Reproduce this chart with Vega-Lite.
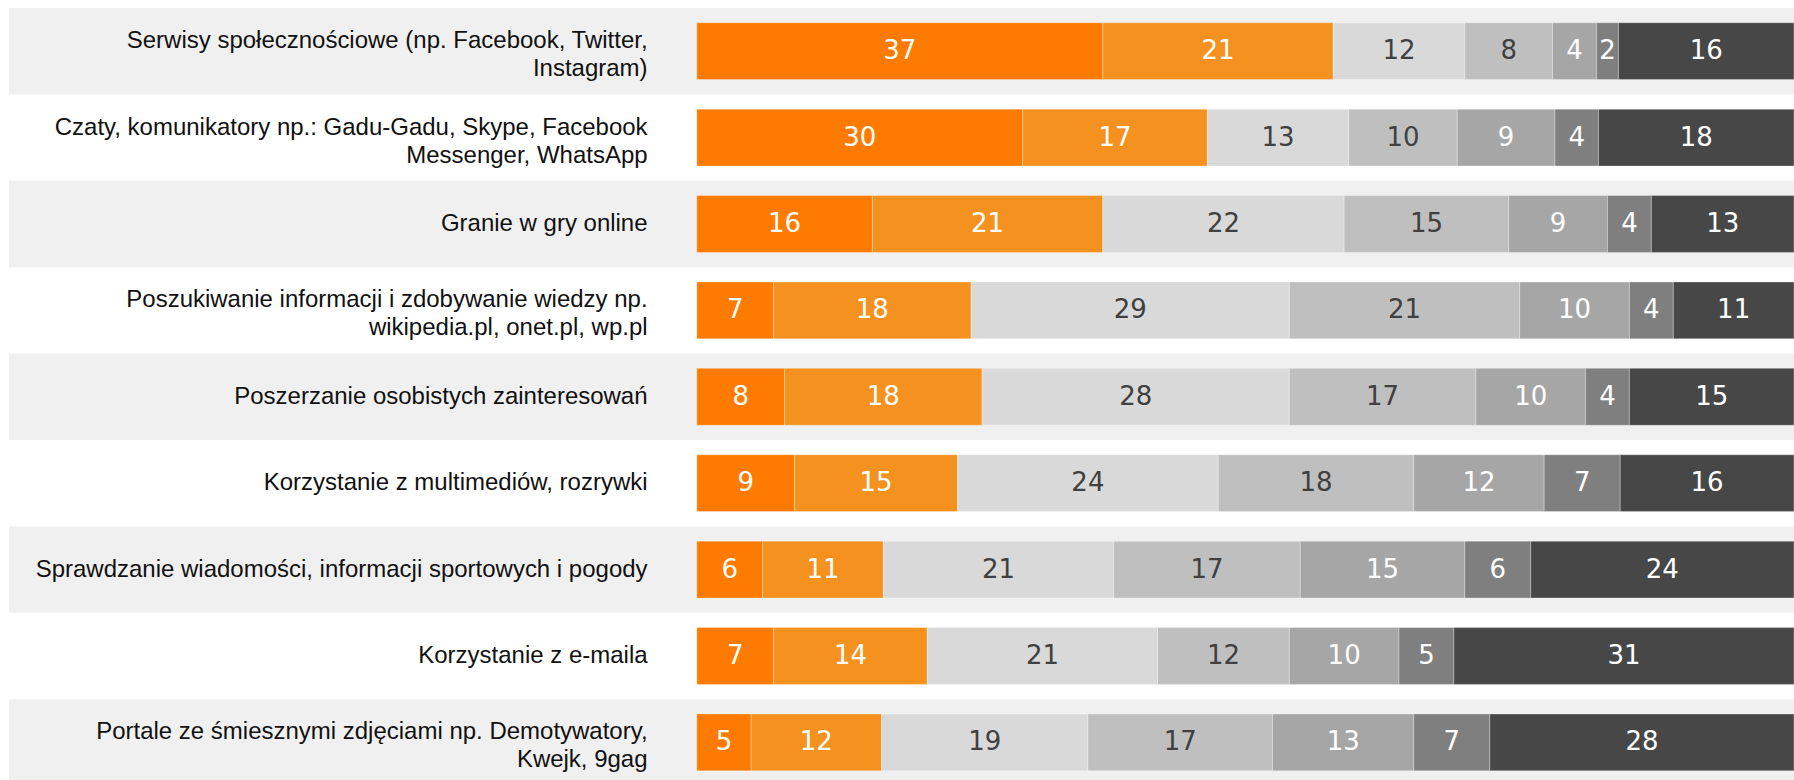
{
  "$schema": "https://vega.github.io/schema/vega-lite/v6.json",
  "width": 1785,
  "height": 777.6,
  "autosize": "none",
  "padding": {"left": 9, "top": 8, "right": 0, "bottom": 0},
  "background": "white",
  "config": {"view": {"stroke": null}},
  "data": {"values": [
    {"category": "Serwisy społecznościowe (np. Facebook, Twitter,\nInstagram)", "segment": 1, "value": 37},
    {"category": "Serwisy społecznościowe (np. Facebook, Twitter,\nInstagram)", "segment": 2, "value": 21},
    {"category": "Serwisy społecznościowe (np. Facebook, Twitter,\nInstagram)", "segment": 3, "value": 12},
    {"category": "Serwisy społecznościowe (np. Facebook, Twitter,\nInstagram)", "segment": 4, "value": 8},
    {"category": "Serwisy społecznościowe (np. Facebook, Twitter,\nInstagram)", "segment": 5, "value": 4},
    {"category": "Serwisy społecznościowe (np. Facebook, Twitter,\nInstagram)", "segment": 6, "value": 2},
    {"category": "Serwisy społecznościowe (np. Facebook, Twitter,\nInstagram)", "segment": 7, "value": 16},
    {"category": "Czaty, komunikatory np.: Gadu-Gadu,  Skype, Facebook\nMessenger, WhatsApp", "segment": 1, "value": 30},
    {"category": "Czaty, komunikatory np.: Gadu-Gadu,  Skype, Facebook\nMessenger, WhatsApp", "segment": 2, "value": 17},
    {"category": "Czaty, komunikatory np.: Gadu-Gadu,  Skype, Facebook\nMessenger, WhatsApp", "segment": 3, "value": 13},
    {"category": "Czaty, komunikatory np.: Gadu-Gadu,  Skype, Facebook\nMessenger, WhatsApp", "segment": 4, "value": 10},
    {"category": "Czaty, komunikatory np.: Gadu-Gadu,  Skype, Facebook\nMessenger, WhatsApp", "segment": 5, "value": 9},
    {"category": "Czaty, komunikatory np.: Gadu-Gadu,  Skype, Facebook\nMessenger, WhatsApp", "segment": 6, "value": 4},
    {"category": "Czaty, komunikatory np.: Gadu-Gadu,  Skype, Facebook\nMessenger, WhatsApp", "segment": 7, "value": 18},
    {"category": "Granie w gry online", "segment": 1, "value": 16},
    {"category": "Granie w gry online", "segment": 2, "value": 21},
    {"category": "Granie w gry online", "segment": 3, "value": 22},
    {"category": "Granie w gry online", "segment": 4, "value": 15},
    {"category": "Granie w gry online", "segment": 5, "value": 9},
    {"category": "Granie w gry online", "segment": 6, "value": 4},
    {"category": "Granie w gry online", "segment": 7, "value": 13},
    {"category": "Poszukiwanie informacji i zdobywanie wiedzy np.\nwikipedia.pl, onet.pl, wp.pl", "segment": 1, "value": 7},
    {"category": "Poszukiwanie informacji i zdobywanie wiedzy np.\nwikipedia.pl, onet.pl, wp.pl", "segment": 2, "value": 18},
    {"category": "Poszukiwanie informacji i zdobywanie wiedzy np.\nwikipedia.pl, onet.pl, wp.pl", "segment": 3, "value": 29},
    {"category": "Poszukiwanie informacji i zdobywanie wiedzy np.\nwikipedia.pl, onet.pl, wp.pl", "segment": 4, "value": 21},
    {"category": "Poszukiwanie informacji i zdobywanie wiedzy np.\nwikipedia.pl, onet.pl, wp.pl", "segment": 5, "value": 10},
    {"category": "Poszukiwanie informacji i zdobywanie wiedzy np.\nwikipedia.pl, onet.pl, wp.pl", "segment": 6, "value": 4},
    {"category": "Poszukiwanie informacji i zdobywanie wiedzy np.\nwikipedia.pl, onet.pl, wp.pl", "segment": 7, "value": 11},
    {"category": "Poszerzanie osobistych zainteresowań", "segment": 1, "value": 8},
    {"category": "Poszerzanie osobistych zainteresowań", "segment": 2, "value": 18},
    {"category": "Poszerzanie osobistych zainteresowań", "segment": 3, "value": 28},
    {"category": "Poszerzanie osobistych zainteresowań", "segment": 4, "value": 17},
    {"category": "Poszerzanie osobistych zainteresowań", "segment": 5, "value": 10},
    {"category": "Poszerzanie osobistych zainteresowań", "segment": 6, "value": 4},
    {"category": "Poszerzanie osobistych zainteresowań", "segment": 7, "value": 15},
    {"category": "Korzystanie z multimediów, rozrywki", "segment": 1, "value": 9},
    {"category": "Korzystanie z multimediów, rozrywki", "segment": 2, "value": 15},
    {"category": "Korzystanie z multimediów, rozrywki", "segment": 3, "value": 24},
    {"category": "Korzystanie z multimediów, rozrywki", "segment": 4, "value": 18},
    {"category": "Korzystanie z multimediów, rozrywki", "segment": 5, "value": 12},
    {"category": "Korzystanie z multimediów, rozrywki", "segment": 6, "value": 7},
    {"category": "Korzystanie z multimediów, rozrywki", "segment": 7, "value": 16},
    {"category": "Sprawdzanie wiadomości, informacji sportowych i pogody", "segment": 1, "value": 6},
    {"category": "Sprawdzanie wiadomości, informacji sportowych i pogody", "segment": 2, "value": 11},
    {"category": "Sprawdzanie wiadomości, informacji sportowych i pogody", "segment": 3, "value": 21},
    {"category": "Sprawdzanie wiadomości, informacji sportowych i pogody", "segment": 4, "value": 17},
    {"category": "Sprawdzanie wiadomości, informacji sportowych i pogody", "segment": 5, "value": 15},
    {"category": "Sprawdzanie wiadomości, informacji sportowych i pogody", "segment": 6, "value": 6},
    {"category": "Sprawdzanie wiadomości, informacji sportowych i pogody", "segment": 7, "value": 24},
    {"category": "Korzystanie z e-maila", "segment": 1, "value": 7},
    {"category": "Korzystanie z e-maila", "segment": 2, "value": 14},
    {"category": "Korzystanie z e-maila", "segment": 3, "value": 21},
    {"category": "Korzystanie z e-maila", "segment": 4, "value": 12},
    {"category": "Korzystanie z e-maila", "segment": 5, "value": 10},
    {"category": "Korzystanie z e-maila", "segment": 6, "value": 5},
    {"category": "Korzystanie z e-maila", "segment": 7, "value": 31},
    {"category": "Portale ze śmiesznymi zdjęciami np. Demotywatory,\nKwejk, 9gag", "segment": 1, "value": 5},
    {"category": "Portale ze śmiesznymi zdjęciami np. Demotywatory,\nKwejk, 9gag", "segment": 2, "value": 12},
    {"category": "Portale ze śmiesznymi zdjęciami np. Demotywatory,\nKwejk, 9gag", "segment": 3, "value": 19},
    {"category": "Portale ze śmiesznymi zdjęciami np. Demotywatory,\nKwejk, 9gag", "segment": 4, "value": 17},
    {"category": "Portale ze śmiesznymi zdjęciami np. Demotywatory,\nKwejk, 9gag", "segment": 5, "value": 13},
    {"category": "Portale ze śmiesznymi zdjęciami np. Demotywatory,\nKwejk, 9gag", "segment": 6, "value": 7},
    {"category": "Portale ze śmiesznymi zdjęciami np. Demotywatory,\nKwejk, 9gag", "segment": 7, "value": 28}
  ]},
  "encoding": {
    "y": {"field": "category", "type": "nominal", "sort": null, "axis": null,
          "scale": {"paddingInner": 0, "paddingOuter": 0,
                    "domain": [
                      "Serwisy społecznościowe (np. Facebook, Twitter,\nInstagram)",
                      "Czaty, komunikatory np.: Gadu-Gadu,  Skype, Facebook\nMessenger, WhatsApp",
                      "Granie w gry online",
                      "Poszukiwanie informacji i zdobywanie wiedzy np.\nwikipedia.pl, onet.pl, wp.pl",
                      "Poszerzanie osobistych zainteresowań",
                      "Korzystanie z multimediów, rozrywki",
                      "Sprawdzanie wiadomości, informacji sportowych i pogody",
                      "Korzystanie z e-maila",
                      "Portale ze śmiesznymi zdjęciami np. Demotywatory,\nKwejk, 9gag"
                    ]}}
  },
  "layer": [
    {
      "transform": [
        {"filter": "datum.segment == 1"},
        {"window": [{"op": "row_number", "as": "rank"}]},
        {"filter": "datum.rank % 2 == 1"}
      ],
      "mark": {"type": "bar", "color": "#f0f0f0", "height": {"band": 1}},
      "encoding": {
        "x": {"datum": -0.6269, "type": "quantitative", "axis": null,
              "scale": {"domain": [-0.6269, 1], "nice": false, "zero": false}},
        "x2": {"datum": 1}
      }
    },
    {
      "mark": {"type": "bar", "height": {"band": 0.658}, "stroke": "#ffffff", "strokeWidth": 0.6, "strokeOpacity": 0.5},
      "encoding": {
        "x": {"field": "value", "type": "quantitative", "stack": "normalize", "axis": null,
              "scale": {"domain": [-0.6269, 1], "nice": false, "zero": false}},
        "color": {"field": "segment", "type": "ordinal", "legend": null,
                  "scale": {"domain": [1, 2, 3, 4, 5, 6, 7],
                            "range": ["#ff7b00", "#f5921f", "#d9d9d9", "#bfbfbf", "#a6a6a6", "#7f7f7f", "#474747"]}},
        "order": {"field": "segment", "type": "quantitative"}
      }
    },
    {
      "mark": {"type": "text", "font": "DejaVu Sans", "fontSize": 26, "baseline": "middle", "align": "center"},
      "encoding": {
        "x": {"field": "value", "type": "quantitative", "stack": "normalize", "bandPosition": 0.5, "axis": null,
              "scale": {"domain": [-0.6269, 1], "nice": false, "zero": false}},
        "detail": {"field": "segment", "type": "ordinal"},
        "order": {"field": "segment", "type": "quantitative"},
        "text": {"field": "value", "type": "quantitative"},
        "color": {"condition": {"test": "datum.segment == 3 || datum.segment == 4", "value": "#404040"}, "value": "#ffffff"}
      }
    },
    {
      "transform": [{"filter": "datum.segment == 1 && indexof(datum.category, '\\n') < 0"}],
      "mark": {"type": "text", "align": "right", "baseline": "middle", "font": "Liberation Sans", "fontSize": 24,
               "color": "#111111"},
      "encoding": {
        "x": {"datum": -0.0449, "type": "quantitative", "axis": null,
              "scale": {"domain": [-0.6269, 1], "nice": false, "zero": false}},
        "text": {"field": "category", "type": "nominal"}
      }
    },
    {
      "transform": [{"filter": "datum.segment == 1 && indexof(datum.category, '\\n') >= 0"}],
      "mark": {"type": "text", "align": "right", "baseline": "middle", "font": "Liberation Sans", "fontSize": 24,
               "lineBreak": "\n", "lineHeight": 28, "dy": -10, "color": "#111111"},
      "encoding": {
        "x": {"datum": -0.0449, "type": "quantitative", "axis": null,
              "scale": {"domain": [-0.6269, 1], "nice": false, "zero": false}},
        "text": {"field": "category", "type": "nominal"}
      }
    }
  ]
}
